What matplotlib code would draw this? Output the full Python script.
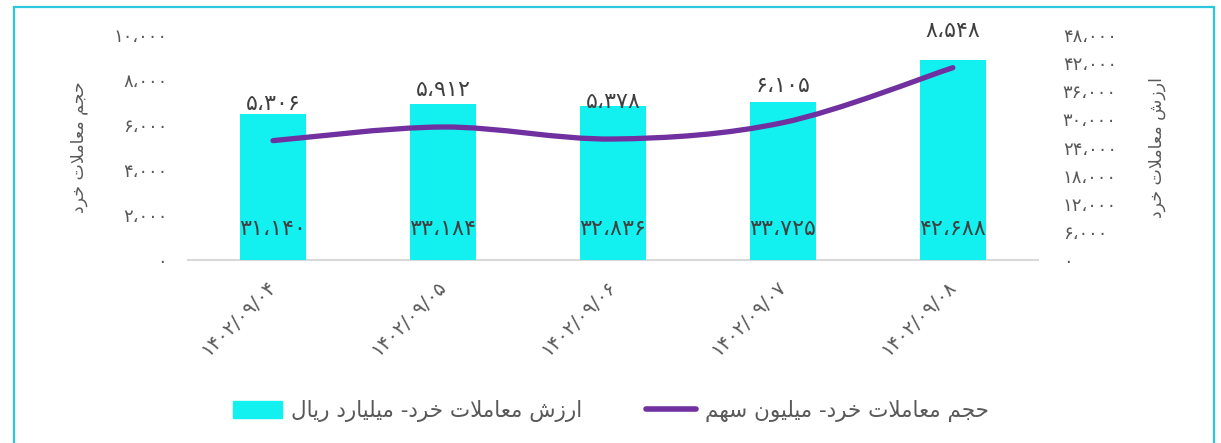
import matplotlib
matplotlib.use('Agg')
from matplotlib import pyplot as plt
from matplotlib.path import Path
from matplotlib.patches import PathPatch, Rectangle

plt.rcParams['font.family'] = ['DejaVu Sans']

dates = ['1402/09/04', '1402/09/05', '1402/09/06', '1402/09/07', '1402/09/08']
volume = [5306, 5912, 5378, 6105, 8548]          # line, left axis
value = [31140, 33184, 32836, 33725, 42688]      # bars, right axis
left_ticks = [0, 2000, 4000, 6000, 8000, 10000]
right_ticks = [0, 6000, 12000, 18000, 24000, 30000, 36000, 42000, 48000]

volume_name = 'حجم معاملات خرد- میلیون سهم'
value_name = 'ارزش معاملات خرد- میلیارد ریال'
left_label = 'حجم معاملات خرد'
right_label = 'ارزش معاملات خرد'

# minimal persian shaping (matplotlib has no bidi / joining support)
FORMS = {
    'ا': (0xFE8D, 0xFE8E),
    'ب': (0xFE8F, 0xFE90, 0xFE91, 0xFE92),
    'ت': (0xFE95, 0xFE96, 0xFE97, 0xFE98),
    'ج': (0xFE9D, 0xFE9E, 0xFE9F, 0xFEA0),
    'ح': (0xFEA1, 0xFEA2, 0xFEA3, 0xFEA4),
    'خ': (0xFEA5, 0xFEA6, 0xFEA7, 0xFEA8),
    'د': (0xFEA9, 0xFEAA),
    'ر': (0xFEAD, 0xFEAE),
    'ز': (0xFEAF, 0xFEB0),
    'س': (0xFEB1, 0xFEB2, 0xFEB3, 0xFEB4),
    'ش': (0xFEB5, 0xFEB6, 0xFEB7, 0xFEB8),
    'ع': (0xFEC9, 0xFECA, 0xFECB, 0xFECC),
    'ل': (0xFEDD, 0xFEDE, 0xFEDF, 0xFEE0),
    'م': (0xFEE1, 0xFEE2, 0xFEE3, 0xFEE4),
    'ن': (0xFEE5, 0xFEE6, 0xFEE7, 0xFEE8),
    'ه': (0xFEE9, 0xFEEA, 0xFEEB, 0xFEEC),
    'و': (0xFEED, 0xFEEE),
    'ی': (0xFBFC, 0xFBFD, 0xFBFE, 0xFBFF),
    'LA': (0xFEFB, 0xFEFC),
}


def fa(s):
    toks = []
    i = 0
    while i < len(s):
        if s[i] == 'ل' and i + 1 < len(s) and s[i + 1] == 'ا':
            toks.append('LA')
            i += 2
        else:
            toks.append(s[i])
            i += 1
    out = []
    for i, t in enumerate(toks):
        if t not in FORMS:
            out.append(t)
            continue
        f = FORMS[t]
        prev = i > 0 and toks[i - 1] in FORMS and len(FORMS[toks[i - 1]]) == 4
        nxt = len(f) == 4 and i + 1 < len(toks) and toks[i + 1] in FORMS
        if prev and nxt:
            c = f[3]
        elif nxt:
            c = f[2]
        elif prev:
            c = f[1]
        else:
            c = f[0]
        out.append(chr(c))
    return ''.join(out[::-1])


DIG = str.maketrans('0123456789,', '۰۱۲۳۴۵۶۷۸۹،')


def pnum(v):
    return '{:,}'.format(v).translate(DIG)


grey = '#595959'
fig = plt.figure(figsize=(12.21, 4.43), dpi=100)
ax = fig.add_axes([0.154, 0.413, 0.696, 0.508])
ax2 = ax.twinx()
ax3 = ax.twinx()

x = list(range(len(dates)))
ax2.bar(x, value, width=0.39, color='#12F0F0', zorder=1)
ax2.set_ylim(0, 48000)
ax2.set_yticks(right_ticks)
ax2.set_yticklabels([pnum(v) for v in right_ticks])

# smooth line like excel: bezier segments from the data points
pts = list(zip(x, volume))
verts = [pts[0]]
codes = [Path.MOVETO]
for i in range(len(pts) - 1):
    p0 = pts[max(i - 1, 0)]
    p1 = pts[i]
    p2 = pts[i + 1]
    p3 = pts[min(i + 2, len(pts) - 1)]
    c1 = (p1[0] + (p2[0] - p0[0]) / 6, p1[1] + (p2[1] - p0[1]) / 6)
    c2 = (p2[0] - (p3[0] - p1[0]) / 6, p2[1] - (p3[1] - p1[1]) / 6)
    verts += [c1, c2, p2]
    codes += [Path.CURVE4] * 3
ax3.set_ylim(0, 10000)
ax3.axis('off')
ax3.add_patch(PathPatch(Path(verts, codes), fill=False, lw=3.8,
                        edgecolor='#7030A0', capstyle='round', zorder=3))

ax.set_ylim(0, 10000)
ax.set_yticks(left_ticks)
ax.set_yticklabels([pnum(v) for v in left_ticks])
ax.set_xlim(-0.5, 4.5)
ax.set_xticks(x)
ax.set_xticklabels([d.translate(DIG) for d in dates], rotation=45, ha='right',
                   va='center', rotation_mode='anchor')

for a in (ax, ax2):
    for sp in a.spines.values():
        sp.set_visible(False)
    a.tick_params(length=0, colors=grey, labelsize=13)
ax.spines['bottom'].set_visible(True)
ax.spines['bottom'].set_color('#d9d9d9')
ax.spines['bottom'].set_linewidth(1.5)
ax.tick_params(axis='y', pad=15)
ax.tick_params(axis='x', pad=17, labelsize=14)
ax2.tick_params(axis='y', pad=18)

ax.set_ylabel(fa(left_label), color=grey, fontsize=12.5, labelpad=18)
ax2.set_ylabel(fa(right_label), color=grey, fontsize=12.5, rotation=90,
               labelpad=22)
ax2.yaxis.set_label_position('right')

for i in x:
    ax3.annotate(pnum(volume[i]), (i, volume[i]), xytext=(0, 37),
                 textcoords='offset pixels', ha='center', va='center',
                 fontsize=16, color='#404040')
    ax2.text(i, 0.14, pnum(value[i]), transform=ax2.get_xaxis_transform(),
             ha='center', va='center', fontsize=16, color='#404040')

h1 = Rectangle((0, 0), 1, 1, color='#12F0F0')
h2 = plt.Line2D([0], [0], color='#7030A0', lw=4, solid_capstyle='round')
fig.legend([h1, h2], [fa(value_name), fa(volume_name)], ncol=2,
           loc='center', bbox_to_anchor=(0.5, 0.072), frameon=False,
           fontsize=15.5, labelcolor=grey, handlelength=2.3, handleheight=0.8,
           handletextpad=0.4, columnspacing=3.0)

fig.patches.append(Rectangle((13.5 / 1221, -0.1), 1200.5 / 1221, 1.085,
                             transform=fig.transFigure, fill=False,
                             edgecolor='#2BC8DC', lw=1.6))

fig.savefig('out.png', dpi=100)
